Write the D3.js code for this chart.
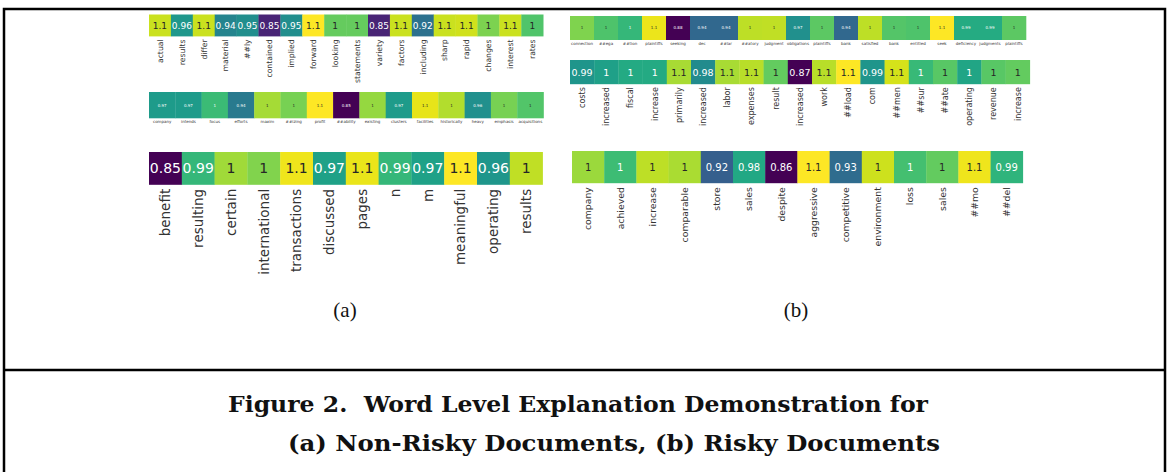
<!DOCTYPE html>
<html>
<head>
<meta charset="utf-8">
<script src="https://cdn.jsdelivr.net/npm/d3@7"></script>
<style>
  body { margin: 0; background: #fff; }
  svg { display: block; }
</style>
</head>
<body>
<svg id="fig" width="1167" height="472"></svg>
<script>
// ---- data (panel a, non-risky) ----
var a1Words = ["actual", "results", "differ", "material", "##ly", "contained", "implied", "forward", "looking",
  "statements", "variety", "factors", "including", "sharp", "rapid", "changes", "interest", "rates"];
var a1Values = [1.06, 0.96, 1.06, 0.94, 0.95, 0.85, 0.95, 1.08, 1.02, 1.02, 0.85, 1.06, 0.92, 1.06, 1.062, 1.03, 1.06, 1.01];
var a1Range = [0.825, 1.08];

var a2Words = ["company", "intends", "focus", "efforts", "maxim", "##izing", "profit", "##ability", "existing",
  "clusters", "facilities", "historically", "heavy", "emphasis", "acquisitions"];
var a2Values = [0.97, 0.97, 1.0, 0.94, 1.04, 1.025, 1.07, 0.85, 1.035, 0.97, 1.062, 1.045, 0.96, 1.025, 1.01];

var a3Words = ["benefit", "resulting", "certain", "international", "transactions", "discussed", "pages", "n", "m",
  "meaningful", "operating", "results"];
var a3Values = [0.85, 0.99, 1.03, 1.02, 1.055, 0.97, 1.053, 0.99, 0.97, 1.06, 0.96, 1.04];

// ---- data (panel b, risky) ----
var b1Words = ["connection", "##ega", "##tion", "plaintiffs", "seeking", "dec", "##lar", "##atory", "judgment",
  "obligations", "plaintiffs", "bank", "satisfied", "bank", "entitled", "seek", "deficiency", "judgments", "plaintiffs"];
var b1Values = [1.025, 1.01, 1.0, 1.055, 0.88, 0.94, 0.94, 1.042, 1.043, 0.97, 1.015, 0.94, 1.042, 1.012, 1.01,
  1.06, 0.99, 0.99, 1.015];

var b2Words = ["costs", "increased", "fiscal", "increase", "primarily", "increased", "labor", "expenses", "result",
  "increased", "work", "##load", "com", "##men", "##sur", "##ate", "operating", "revenue", "increase"];
var b2Values = [0.99, 1.0, 1.01, 1.01, 1.07, 0.98, 1.07, 1.075, 1.045, 0.87, 1.075, 1.1, 0.99, 1.085, 1.025, 1.04,
  1.005, 1.04, 1.045];

var b3Words = ["company", "achieved", "increase", "comparable", "store", "sales", "despite", "aggressive",
  "competitive", "environment", "loss", "sales", "##mo", "##del"];
var b3Values = [1.03, 0.997, 1.04, 1.035, 0.92, 0.98, 0.86, 1.06, 0.93, 1.045, 1.0, 1.012, 1.055, 0.99];

var panelLabels = ["(a)", "(b)"];
var captionLines = ["Figure 2.  Word Level Explanation Demonstration for", "(a) Non-Risky Documents, (b) Risky Documents"];

var svg = d3.select("#fig");
var fmt = d3.format(".2~g");

// seaborn style: dark text on light cells, white on dark
var lum = function(c) {
  var rgb = d3.rgb(c);
  var ch = [rgb.r, rgb.g, rgb.b].map(function(v) {
    v = v / 255;
    return v <= 0.03928 ? v / 12.92 : Math.pow((v + 0.055) / 1.055, 2.4);
  });
  return 0.2126 * ch[0] + 0.7152 * ch[1] + 0.0722 * ch[2];
};

var drawRow = function(words, values, range, opt) {
  var n = values.length;
  var x = d3.scaleBand().domain(d3.range(n)).range([opt.x, opt.x + n * opt.cell]);
  var color = d3.scaleSequential(d3.interpolateViridis).domain(range || d3.extent(values));
  var g = svg.append("g");

  var cell = g.selectAll("g").data(values).enter().append("g")
    .attr("transform", function(d, i) { return "translate(" + x(i) + "," + opt.y + ")"; });
  cell.append("rect")
    .attr("width", x.bandwidth() + 0.3)
    .attr("height", opt.cell)
    .attr("fill", function(d) { return color(d); });
  cell.append("text")
    .attr("x", x.bandwidth() / 2)
    .attr("y", opt.cell / 2)
    .attr("dy", "0.36em")
    .attr("text-anchor", "middle")
    .style("font-family", "DejaVu Sans")
    .style("font-size", opt.annot + "px")
    .attr("fill", function(d) { return lum(color(d)) > 0.408 ? "#262626" : "#ffffff"; })
    .text(function(d) { return fmt(d); });

  // word labels under the cells
  var ly = opt.y + opt.cell + opt.gap;
  g.selectAll(".lab").data(words).enter().append("text")
    .attr("class", "lab")
    .attr("transform", function(d, i) {
      var cx = x(i) + x.bandwidth() / 2;
      return opt.rotate ? "translate(" + cx + "," + ly + ") rotate(-90)" : "translate(" + cx + "," + ly + ")";
    })
    .attr("dy", opt.rotate ? "0.36em" : "0.8em")
    .attr("text-anchor", opt.rotate ? "end" : "middle")
    .style("font-family", "DejaVu Sans")
    .style("font-size", opt.label + "px")
    .attr("fill", "#333")
    .text(function(d) { return d; });
};

drawRow(a1Words, a1Values, a1Range, {x: 149, y: 14.5, cell: 21.9, annot: 9, label: 7.7, gap: 3, rotate: true});
drawRow(a2Words, a2Values, null, {x: 149, y: 92, cell: 26.3, annot: 4, label: 4, gap: 1.5, rotate: false});
drawRow(a3Words, a3Values, null, {x: 149, y: 152, cell: 32.8, annot: 14, label: 13.5, gap: 4, rotate: true});
drawRow(b1Words, b1Values, null, {x: 570, y: 16, cell: 24, annot: 4, label: 4, gap: 1.5, rotate: false});
drawRow(b2Words, b2Values, null, {x: 570, y: 60, cell: 24.2, annot: 9.5, label: 8, gap: 3, rotate: true});
drawRow(b3Words, b3Values, null, {x: 572, y: 151, cell: 32.2, annot: 10, label: 9.3, gap: 4, rotate: true});

// frame
svg.append("path")
  .attr("d", "M4,472 V9 H1165 V472 M4,370 H1165")
  .attr("fill", "none")
  .attr("stroke", "#000")
  .attr("stroke-width", 2.5);

// sub-figure labels
svg.selectAll(".plab").data(panelLabels).enter().append("text")
  .attr("class", "plab")
  .attr("x", function(d, i) { return [345, 796][i]; })
  .attr("y", 317)
  .attr("text-anchor", "middle")
  .style("font-family", "Liberation Serif")
  .style("font-size", "21px")
  .attr("fill", "#111")
  .text(function(d) { return d; });

// caption
svg.selectAll(".cap").data(captionLines).enter().append("text")
  .attr("class", "cap")
  .attr("x", function(d, i) { return [578, 614][i]; })
  .attr("y", function(d, i) { return [412, 451][i]; })
  .attr("text-anchor", "middle")
  .attr("textLength", function(d, i) { return [700, 652][i]; })
  .attr("lengthAdjust", "spacingAndGlyphs")
  .style("white-space", "pre")
  .style("font-family", "DejaVu Serif")
  .style("font-weight", "bold")
  .style("font-size", "22px")
  .attr("fill", "#111")
  .text(function(d) { return d; });
</script>
</body>
</html>
